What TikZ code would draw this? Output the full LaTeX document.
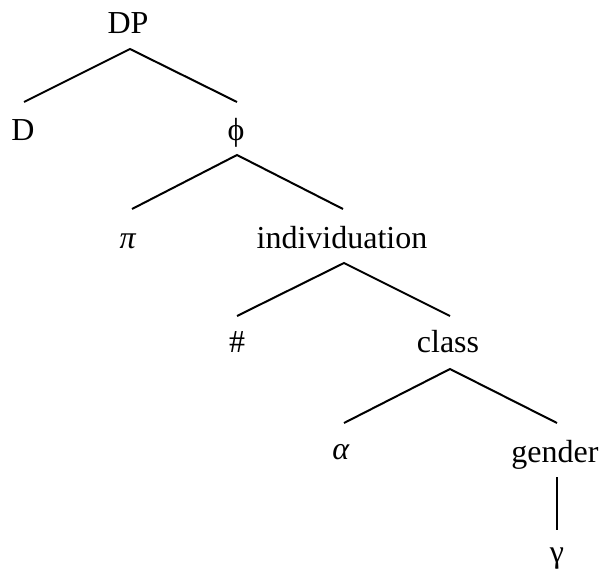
\documentclass[tikz,border=0pt]{standalone}
\usepackage{fontspec}
\setmainfont{Liberation Serif}
\begin{document}
\begin{tikzpicture}[x=1pt,y=-1pt,
  lbl/.style={anchor=base,inner sep=0pt,font=\fontsize{32}{35}\selectfont},
  br/.style={line width=2pt}]
\useasboundingbox (0,0) rectangle (601,575);
\node[lbl] (DP) at (128,34) {DP};
\node[lbl] (D) at (23,140) {D};
\node[lbl] (phi) at (236,140) {ϕ};
\node[lbl] (pi) at (128,248) {\textit{π}};
\node[lbl] (ind) at (342,248) {individuation};
\node[lbl] (num) at (237,352) {\#};
\node[lbl] (cls) at (448,352) {class};
\node[lbl] (alpha) at (341,459) {\textit{α}};
\node[lbl] (gen) at (555,462) {gender};
\node[lbl] (gam) at (557,562) {γ};
\draw[br] ([shift={(1,-38)}]D.base) -- ([shift={(2,15)}]DP.base) -- ([shift={(1,-38)}]phi.base);
\draw[br] ([shift={(4,-39)}]pi.base) -- ([shift={(1,15)}]phi.base) -- ([shift={(1,-39)}]ind.base);
\draw[br] ([shift={(0,-36)}]num.base) -- ([shift={(2,15)}]ind.base) -- ([shift={(2,-36)}]cls.base);
\draw[br] ([shift={(3,-36)}]alpha.base) -- ([shift={(2,17)}]cls.base) -- ([shift={(2,-39)}]gen.base);
\draw[br] ([shift={(2,15)}]gen.base) -- ([shift={(0,-32)}]gam.base);
\end{tikzpicture}
\end{document}
